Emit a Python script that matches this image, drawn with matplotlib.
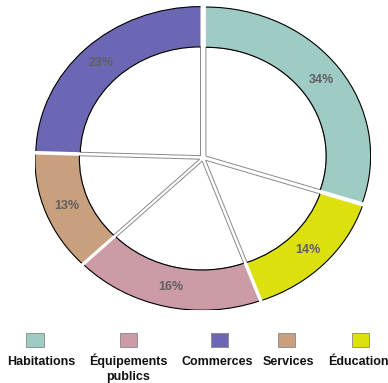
import matplotlib
matplotlib.use("Agg")
import matplotlib.pyplot as plt
from matplotlib.patches import Arc, Rectangle
import numpy as np

categories = ["Habitations", "Éducation", "Équipements publics", "Services", "Commerces"]
# angular shares as drawn in the picture (clockwise from 12 o'clock)
shares = [30.0, 14.4, 18.3, 12.8, 24.5]
# percentage labels as printed on the picture
pct_labels = ["34%", "14%", "16%", "13%", "23%"]
colors = ["#9ecbc4", "#dce10e", "#cc9ba6", "#c9a07e", "#6b67b5"]

legend_order = ["Habitations", "Équipements publics", "Commerces", "Services", "Éducation"]
legend_lines = [["Habitations"], ["Équipements", "publics"], ["Commerces"], ["Services"], ["Éducation"]]

plt.rcParams['font.family'] = ['Liberation Sans', 'DejaVu Sans']

W, H = 388, 383
fig = plt.figure(figsize=(W / 100, H / 100), dpi=100)

cx, cy = 203, 158
rx, ry = 168, 152
ax = fig.add_axes([(cx - rx) / W, (H - cy - ry) / H, 2 * rx / W, 2 * ry / H])

explode = [0.022] * len(shares)
inner = 0.73

ring, _ = ax.pie(shares, colors=colors, startangle=90, counterclock=False,
                 explode=explode, radius=1.0,
                 wedgeprops=dict(width=1 - inner, edgecolor='none'))

core, _ = ax.pie(shares, colors=['white'] * len(shares), startangle=90, counterclock=False,
                 explode=explode, radius=inner,
                 wedgeprops=dict(edgecolor='#8a8a8a', linewidth=0.7))

for w, lab in zip(ring, pct_labels):
    c = w.center
    for r in (1.0, inner):
        ax.add_patch(Arc(c, 2 * r, 2 * r, theta1=w.theta1, theta2=w.theta2,
                         color='black', linewidth=0.8, zorder=5))
    mid = np.deg2rad((w.theta1 + w.theta2) / 2)
    rl = (1.0 + inner) / 2
    ax.text(c[0] + rl * np.cos(mid), c[1] + rl * np.sin(mid), lab,
            ha='center', va='center', fontsize=9, fontweight='bold', color='#5f5f5f', zorder=6)

ax.set_aspect('auto')
ax.set_xlim(-1.02, 1.02)
ax.set_ylim(-1.02, 1.02)
ax.axis('off')

leg_sq_x = [35, 128, 219.5, 286.5, 360]
leg_txt_x = [41, 128, 217, 288, 358]
for i, name in enumerate(legend_order):
    col = colors[categories.index(name)]
    sx = leg_sq_x[i]
    fig.patches.append(Rectangle(((sx - 8.5) / W, (H - 347) / H), 17 / W, 14 / H,
                                 transform=fig.transFigure, facecolor=col,
                                 edgecolor='#888888', linewidth=0.6))
    for j, line in enumerate(legend_lines[i]):
        fig.text(leg_txt_x[i] / W, (H - 365 - 15 * j) / H, line, ha='center', va='baseline',
                 fontsize=9, fontweight='bold', color='#111111')

fig.savefig("out.png", dpi=100)
